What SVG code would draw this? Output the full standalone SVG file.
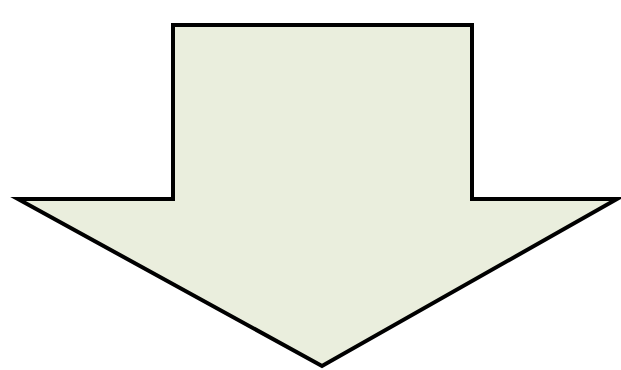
<svg xmlns="http://www.w3.org/2000/svg" width="621" height="370" viewBox="0 0 621 370">
<style>.arrow{fill:#EAEEDD;stroke:#000;stroke-width:4;stroke-linejoin:miter;stroke-miterlimit:10}</style>
<rect width="621" height="370" fill="#fff"/>
<g id="arrow">
<path class="arrow" d="M173,25 H472 V199 H617 L322,366 L18,199 H173 Z"/>
</g>
</svg>
